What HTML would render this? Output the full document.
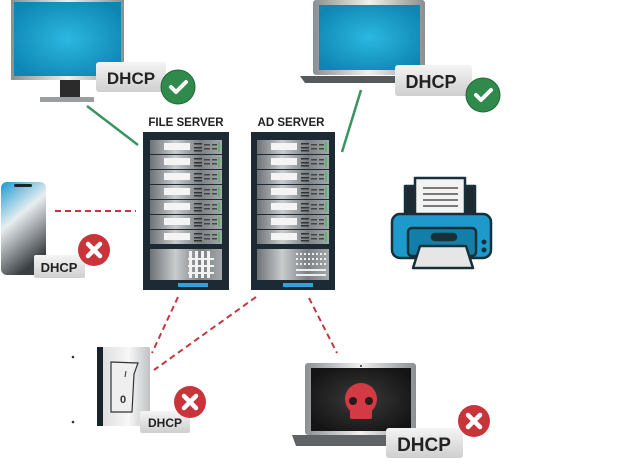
<!DOCTYPE html>
<html><head><meta charset="utf-8"><style>
html,body{margin:0;padding:0;background:#fff;width:624px;height:466px;overflow:hidden}
svg{display:block}
text{font-family:"Liberation Sans",sans-serif;font-weight:bold}
</style></head><body>
<svg width="624" height="466" viewBox="0 0 624 466" xmlns="http://www.w3.org/2000/svg">
<defs>
<radialGradient id="scr" cx="50%" cy="50%" r="60%"><stop offset="0" stop-color="#2bb8e0"/><stop offset="1" stop-color="#0e86b3"/></radialGradient>
<linearGradient id="frm" x1="0" x2="1"><stop offset="0" stop-color="#8a8f93"/><stop offset=".5" stop-color="#f0f0f0"/><stop offset="1" stop-color="#8a8f93"/></linearGradient>
<linearGradient id="unit" x1="0" x2="1"><stop offset="0" stop-color="#6d7276"/><stop offset=".35" stop-color="#c9cccd"/><stop offset=".7" stop-color="#7b8084"/><stop offset="1" stop-color="#a5a9ab"/></linearGradient>
<linearGradient id="badge" x1="0" y1="0" x2="0" y2="1"><stop offset="0" stop-color="#f4f4f4"/><stop offset="1" stop-color="#cfcfcf"/></linearGradient>
<linearGradient id="phone" x1="0" y1="0" x2="0.4" y2="1"><stop offset="0" stop-color="#1a9ad0"/><stop offset=".45" stop-color="#e8eef0"/><stop offset="1" stop-color="#3a3f44"/></linearGradient>
<radialGradient id="dark" cx="50%" cy="50%" r="60%"><stop offset="0" stop-color="#3a3a3a"/><stop offset="1" stop-color="#141414"/></radialGradient>
<linearGradient id="sw" x1="0" x2="1"><stop offset="0" stop-color="#d8dadb"/><stop offset=".6" stop-color="#f7f7f7"/><stop offset="1" stop-color="#bfc2c4"/></linearGradient>
<g id="u">
 <rect x="0" y="0" width="72" height="14" fill="url(#unit)"/>
 <rect x="14" y="3" width="26" height="7" fill="#f4f4f4"/>
 <rect x="44" y="3" width="8" height="1.5" fill="#333"/><rect x="44" y="7" width="8" height="1.5" fill="#333"/><rect x="44" y="10" width="8" height="1.5" fill="#333"/>
 <rect x="54" y="4" width="6" height="1.5" fill="#444"/><rect x="54" y="8" width="6" height="1.5" fill="#444"/>
 <rect x="62" y="4" width="5" height="1.5" fill="#444"/><rect x="62" y="8" width="5" height="1.5" fill="#444"/>
 <rect x="68" y="2" width="2" height="10" fill="#5fb36e"/>
</g>
<g id="ok"><circle r="17" fill="#2f8a4c" stroke="#1f6a36" stroke-width="1"/><path d="M-7 0 L-2 5 L8 -5" stroke="#fff" stroke-width="4" fill="none" stroke-linecap="round" stroke-linejoin="round"/></g>
<g id="no"><circle r="16" fill="#c9343b"/><path d="M-6 -6 L6 6 M6 -6 L-6 6" stroke="#fff" stroke-width="4.5" stroke-linecap="round"/></g>
</defs>

<g stroke="#3a9462" stroke-width="2.5"><line x1="87" y1="106" x2="138" y2="145"/><line x1="361" y1="90" x2="342" y2="152"/></g>
<g stroke="#c8363d" stroke-width="2" stroke-dasharray="6,4" fill="none">
<line x1="55" y1="211" x2="136" y2="211"/>
<line x1="178" y1="297" x2="152" y2="353"/>
<line x1="256" y1="297" x2="154" y2="370"/>
<line x1="309" y1="298" x2="337" y2="353"/>
</g>

<rect x="11" y="0" width="113" height="80" fill="url(#frm)"/>
<rect x="14" y="2" width="107" height="74" fill="url(#scr)"/>
<rect x="60" y="80" width="20" height="17" fill="#2b2b2b"/>
<rect x="40" y="97" width="54" height="5" fill="#9a9ea1"/>
<rect x="96" y="62" width="70" height="30" rx="3" fill="url(#badge)"/>
<text x="131" y="84" font-size="17" text-anchor="middle" fill="#222">DHCP</text>
<use href="#ok" x="178" y="87"/>

<rect x="313" y="0" width="112" height="75" rx="3" fill="url(#frm)"/>
<rect x="319" y="5" width="101" height="65" fill="url(#scr)"/>
<path d="M300 76 H410 L406 83 H305 Z" fill="#56595c"/>
<rect x="395" y="65" width="77" height="31" rx="3" fill="url(#badge)"/>
<text x="431" y="88" font-size="18" text-anchor="middle" fill="#222">DHCP</text>
<use href="#ok" x="483" y="95"/>

<text x="186" y="126" font-size="11.5" text-anchor="middle" fill="#222">FILE SERVER</text>
<text x="291" y="126" font-size="11.5" text-anchor="middle" fill="#222">AD SERVER</text>
<g>
<rect x="143" y="132" width="86" height="158" fill="#1d2a33"/>
<use href="#u" x="150" y="140"/><use href="#u" x="150" y="155"/><use href="#u" x="150" y="170"/><use href="#u" x="150" y="185"/><use href="#u" x="150" y="200"/><use href="#u" x="150" y="215"/><use href="#u" x="150" y="230"/>
<rect x="150" y="249" width="72" height="31" fill="url(#unit)"/>
<g fill="#f2f2f2"><rect x="189" y="251" width="3" height="27"/><rect x="195" y="251" width="3" height="27"/><rect x="201" y="251" width="3" height="27"/><rect x="207" y="251" width="3" height="27"/><rect x="188" y="258" width="26" height="2"/><rect x="188" y="265" width="26" height="2"/><rect x="188" y="272" width="26" height="2"/></g>
<rect x="178" y="283" width="30" height="4" fill="#2aa6d8"/>
</g>
<g>
<rect x="251" y="132" width="84" height="158" fill="#1d2a33"/>
<use href="#u" x="257" y="140"/><use href="#u" x="257" y="155"/><use href="#u" x="257" y="170"/><use href="#u" x="257" y="185"/><use href="#u" x="257" y="200"/><use href="#u" x="257" y="215"/><use href="#u" x="257" y="230"/>
<rect x="257" y="249" width="72" height="31" fill="url(#unit)"/>
<g stroke="#eee" stroke-width="2" stroke-dasharray="2,2"><line x1="296" y1="254" x2="326" y2="254"/><line x1="296" y1="259" x2="326" y2="259"/><line x1="296" y1="264" x2="326" y2="264"/></g>
<g fill="#eee"><rect x="296" y="269" width="30" height="2"/><rect x="296" y="274" width="30" height="2"/></g>
<rect x="283" y="283" width="30" height="4" fill="#2aa6d8"/>
</g>

<rect x="1" y="182" width="45" height="93" rx="6" fill="url(#phone)"/>
<rect x="14" y="184" width="18" height="3" rx="1.5" fill="#222"/>
<rect x="34" y="255" width="51" height="23" rx="2" fill="url(#badge)"/>
<text x="59" y="272" font-size="13" text-anchor="middle" fill="#222">DHCP</text>
<use href="#no" x="94" y="250"/>

<g stroke="#17303a" stroke-width="2.5" stroke-linejoin="round">
<rect x="405" y="186" width="70" height="37" fill="#1e2a30"/>
<rect x="415" y="178" width="50" height="45" fill="#f3f3f3"/>
<rect x="392" y="214" width="99" height="44" rx="8" fill="#1d9acb"/>
<rect x="408" y="228" width="68" height="28" rx="4" fill="#137ea8"/>
<rect x="432" y="234" width="24" height="6" rx="3" fill="#17303a"/>
<path d="M413 268 L420 246 H466 L473 268 Z" fill="#e6e6e6"/>
</g>
<g stroke="#333" stroke-width="1.2"><line x1="423" y1="188" x2="458" y2="188"/><line x1="423" y1="194" x2="458" y2="194"/><line x1="423" y1="200" x2="458" y2="200"/><line x1="423" y1="206" x2="458" y2="206"/></g>
<circle cx="484" cy="242" r="2.5" fill="#17303a"/><circle cx="484" cy="250" r="2.5" fill="#17303a"/>

<circle cx="73" cy="357" r="1.3" fill="#333"/><circle cx="73" cy="422" r="1.3" fill="#333"/>
<rect x="97" y="347" width="53" height="79" rx="2" fill="url(#sw)"/>
<rect x="97" y="347" width="6" height="79" fill="#17232b"/>
<path d="M111 362 L138 363 L134 374 L132 412 L111 412 Z" fill="#efefef" stroke="#333" stroke-width="1.2"/>
<text x="123" y="403" font-size="11" font-weight="normal" text-anchor="middle" fill="#333">0</text>
<line x1="126" y1="371" x2="125" y2="377" stroke="#333"/>
<rect x="140" y="411" width="50" height="22" rx="2" fill="url(#badge)"/>
<text x="165" y="427" font-size="12" text-anchor="middle" fill="#222">DHCP</text>
<use href="#no" x="190" y="402"/>

<rect x="305" y="363" width="111" height="72" rx="3" fill="url(#frm)"/>
<rect x="311" y="368" width="100" height="63" fill="url(#dark)"/>
<circle cx="361" cy="366" r="1" fill="#222"/>
<path d="M292 435 H420 L416 446 H296 Z" fill="#606366"/>
<g fill="#d43a43"><circle cx="361" cy="399" r="16"/><rect x="350" y="405" width="22" height="14" rx="2"/></g>
<circle cx="353" cy="401" r="4" fill="#2a1a1a"/><circle cx="369" cy="401" r="4" fill="#2a1a1a"/>
<rect x="386" y="428" width="77" height="30" rx="3" fill="url(#badge)"/>
<text x="424" y="451" font-size="19" text-anchor="middle" fill="#222">DHCP</text>
<use href="#no" x="474" y="421"/>
</svg>
</body></html>
